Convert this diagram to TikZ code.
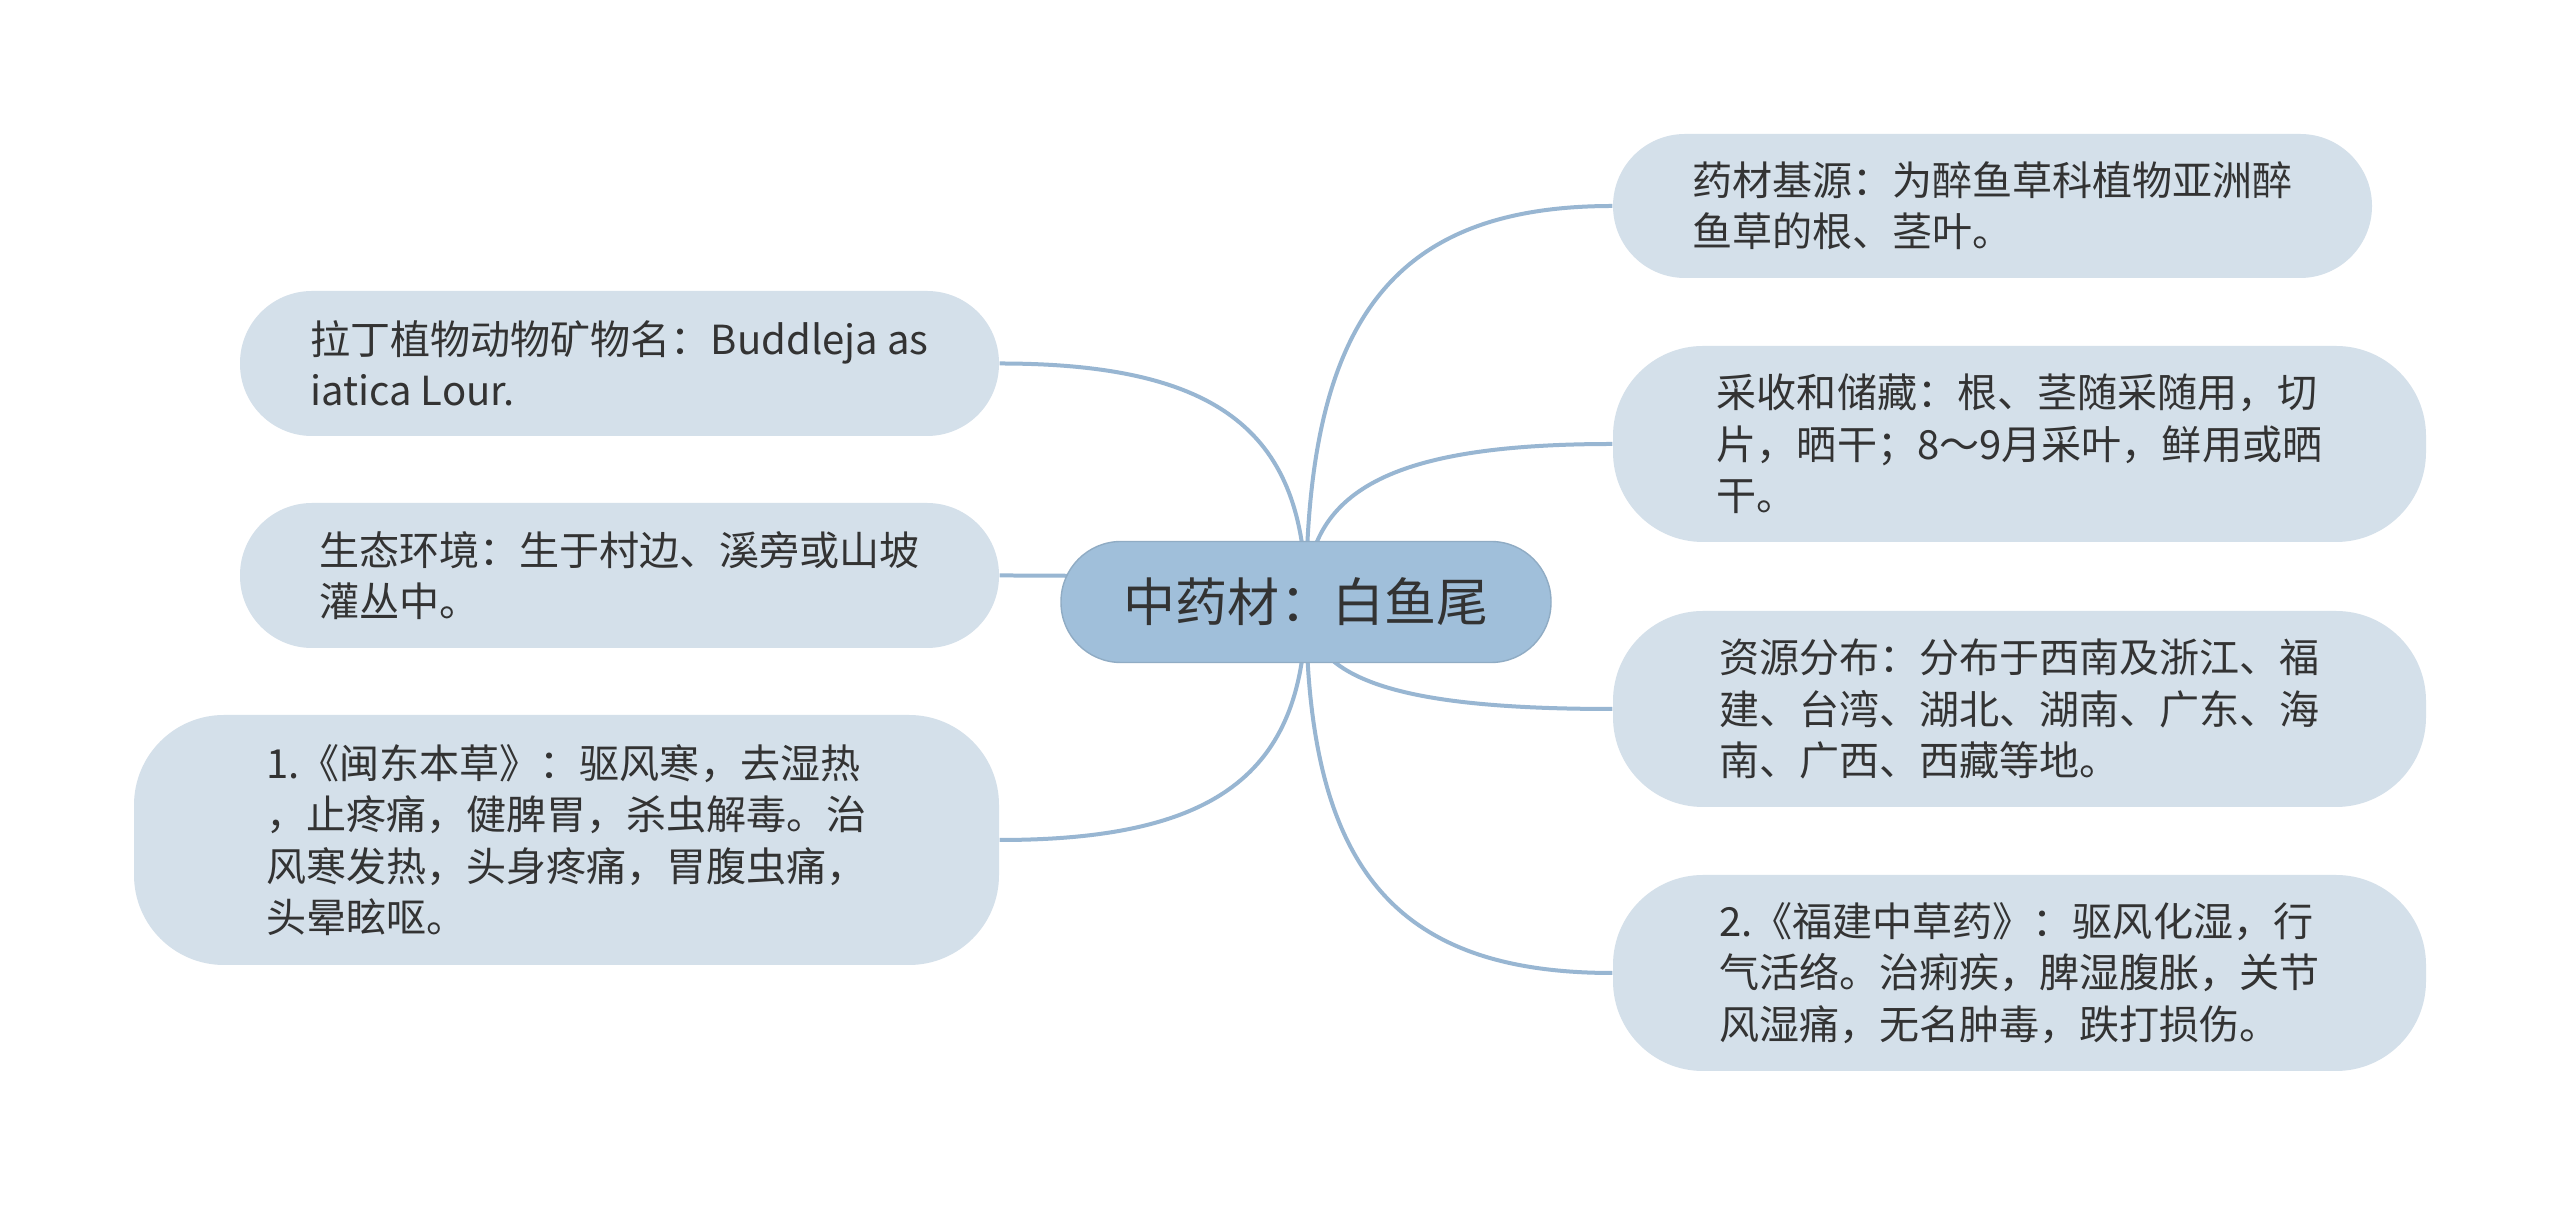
\documentclass[tikz,border=0pt]{standalone}
\usepackage{fontspec}
\setmainfont{Noto Sans CJK SC}
\usetikzlibrary{backgrounds,calc}
\definecolor{hubfill}{RGB}{160,191,218}
\definecolor{leaffill}{RGB}{212,224,234}
\definecolor{linkcol}{RGB}{152,182,210}
\definecolor{textcol}{RGB}{51,51,51}
\begin{document}
\begin{tikzpicture}[
  hub/.style={rectangle, rounded corners=0.6cm, fill=hubfill, draw=hubfill!90!black,
              line width=0.4pt, minimum width=4.9cm, minimum height=1.21cm, inner sep=0pt,
              text=textcol, font=\fontsize{14.8pt}{18pt}\selectfont},
  leaf/.style={rectangle, rounded corners=0.72cm, fill=leaffill, minimum height=1.44cm,
               inner sep=0pt, align=left, text=textcol,
               font=\fontsize{11.4pt}{14.6pt}\selectfont},
  tall/.style={rounded corners=0.9cm},
  link/.style={draw=linkcol, line width=0.04cm}
]
\useasboundingbox (0,0) rectangle (25.6,-12.05);

% Center
\node[hub] (hub) at (13.06,-6.02) {中药材：白鱼尾};

% Right branches
\node[leaf, minimum width=7.59cm] (source) at (19.925,-2.06)
  {药材基源：为醉鱼草科植物亚洲醉\\鱼草的根、茎叶。};
\node[leaf, tall, minimum width=8.13cm, minimum height=1.96cm] (harvest) at (20.195,-4.44)
  {采收和储藏：根、茎随采随用，切\\片，晒干；8～9月采叶，鲜用或晒\\干。};
\node[leaf, tall, minimum width=8.13cm, minimum height=1.96cm] (range) at (20.195,-7.09)
  {资源分布：分布于西南及浙江、福\\建、台湾、湖北、湖南、广东、海\\南、广西、西藏等地。};
\node[leaf, tall, minimum width=8.13cm, minimum height=1.96cm] (fujian) at (20.195,-9.73)
  {2.《福建中草药》：驱风化湿，行\\气活络。治痢疾，脾湿腹胀，关节\\风湿痛，无名肿毒，跌打损伤。};

% Left branches
\node[leaf, minimum width=7.59cm, minimum height=1.45cm] (latin) at (6.195,-3.635)
  {拉丁植物动物矿物名：Buddleja as\\iatica Lour.};
\node[leaf, minimum width=7.59cm, minimum height=1.45cm] (habitat) at (6.195,-5.755)
  {生态环境：生于村边、溪旁或山坡\\灌丛中。};
\node[leaf, tall, minimum width=8.65cm, minimum height=2.5cm] (mindong) at (5.665,-8.40)
  {1.《闽东本草》：驱风寒，去湿热\\，止疼痛，健脾胃，杀虫解毒。治\\风寒发热，头身疼痛，胃腹虫痛，\\头晕眩呕。};

% Links
\begin{scope}[on background layer]
\fill[white] (0,0) rectangle (25.6,-12.05);
\foreach \leafname/\side in {source/west, harvest/west, range/west, fujian/west,
                             latin/east, habitat/east, mindong/east}
  \draw[link] (hub.center)
    .. controls ($(hub.center)!0.7!(hub.center |- \leafname.\side)$)
            and ($(hub.center |- \leafname.\side)!0.27!(\leafname.\side)$)
    .. (\leafname.\side);
\end{scope}

\end{tikzpicture}
\end{document}
